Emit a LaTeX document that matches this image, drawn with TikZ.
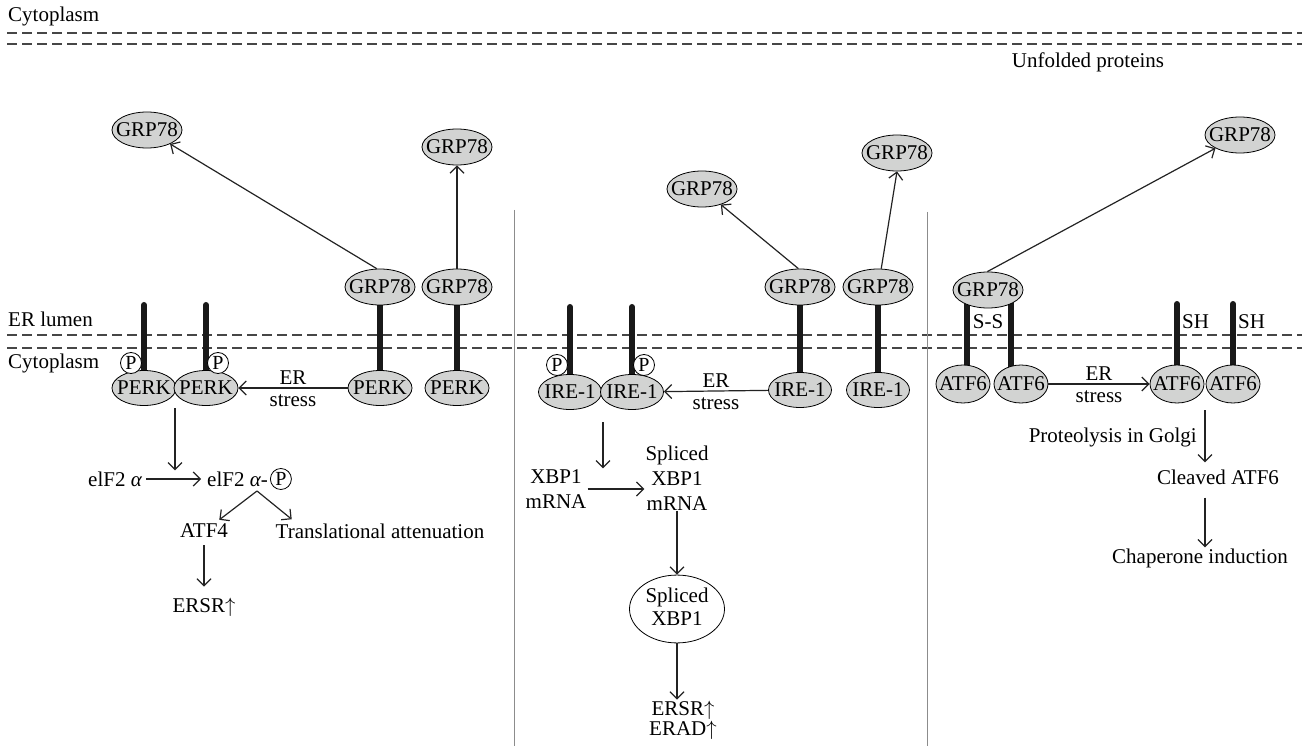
\documentclass[tikz,border=0pt]{standalone}
\usepackage{fontspec}
\setmainfont{Liberation Serif}
\usetikzlibrary{shapes.geometric,arrows.meta,calc,backgrounds}
\definecolor{protfill}{RGB}{210,211,210}
\definecolor{dashcol}{RGB}{70,70,70}
\definecolor{linecol}{RGB}{35,35,35}
\definecolor{sepcol}{RGB}{140,140,140}
\newcommand{\zb}[1]{\makebox[0pt]{#1}}
\newcommand{\upar}{$\uparrow$}
\begin{document}
\begin{tikzpicture}[x=1pt,y=-1pt,
  every node/.style={font=\fontsize{21}{25}\selectfont, text=black},
  prot/.style={ellipse, draw=black, line width=0.8pt, fill=protfill, inner sep=0pt},
  grp/.style={prot, minimum width=70pt, minimum height=36pt},
  perk/.style={prot, minimum width=64pt, minimum height=35pt},
  ire/.style={prot, minimum width=63pt, minimum height=35pt},
  atf/.style={prot, minimum width=54pt, minimum height=38pt},
  pcirc/.style={circle, draw=black, line width=0.8pt, fill=white, inner sep=0pt, minimum size=21pt, font=\fontsize{20}{20}\selectfont},
  txt/.style={inner sep=1pt, align=center},
  arr/.style={draw=linecol, line width=1.2pt, -{Straight Barb[length=7pt,width=14pt]}},
  bar/.style={draw=black!90, line width=6pt, line cap=round},
  memb/.style={draw=dashcol, line width=1.5pt, dash pattern=on 10pt off 5pt},
  sepline/.style={draw=sepcol, line width=1pt}
]
\useasboundingbox (0,0) rectangle (1302,746);

% ---------- labels ----------
\node[txt, anchor=west] (cyt1) at (7,16) {Cytoplasm};
\node[txt] (unf) at (1088,62) {Unfolded proteins};
\node[txt, anchor=west] (erl) at (7,319) {ER lumen};
\node[txt, anchor=west] (cyt2) at (7,363) {Cytoplasm};

% ---------- left panel (PERK) ----------
\node[grp] (lf1) at (147,130) {\zb{GRP78}};
\node[grp] (lf2) at (457,147) {\zb{GRP78}};
\node[grp] (lg1) at (380,287) {\zb{GRP78}};
\node[grp] (lg2) at (457,287) {\zb{GRP78}};
\node[perk] (p1) at (144,388) {\zb{PERK}};
\node[perk] (p2) at (206,388) {\zb{PERK}};
\node[perk] (p3) at (380,388) {\zb{PERK}};
\node[perk] (p4) at (457,388) {\zb{PERK}};
\node[pcirc] (pp1) at (131,363) {P};
\node[pcirc] (pp2) at (218,363) {P};
\coordinate (p1top) at (144,305);
\coordinate (p2top) at (206,305);

\draw[arr] (lg1.100) -- (lf1);
\draw[arr] (lg2) -- (lf2);
\draw[arr] (p3) -- (p2) node[midway, above=0pt] (ls1) {ER} node[midway, below=3pt] (ls2) {stress};

\coordinate (pj) at (175,408);
\node[txt] (eif) at (115,479) {elF2 {\itshape α}};
\node[txt, anchor=west] (eifp) at (206,479) {elF2 {\itshape α}-};
\node[pcirc, anchor=west] (pc) at ([xshift=1pt]eifp.east) {P};
\draw[arr] (pj) -- (pj |- eifp.north);
\draw[arr, shorten <=3pt, shorten >=5pt] (eif) -- (eifp);
\coordinate (apex) at (257,491);
\node[txt] (atf4) at (204,531) {ATF4};
\node[txt] (trans) at (380,531) {Translational attenuation};
\draw[arr, shorten >=5pt] (apex) -- ($(atf4.north)!0.45!(atf4.north east)$);
\draw[arr, shorten >=5pt] (apex) -- ($(trans.north west)!0.1!(trans.north east)$);
\node[txt] (ersr1) at (204,607) {ERSR\upar};
\draw[arr, shorten <=6pt, shorten >=10pt] (atf4.south) -- (atf4.south |- ersr1.north);

% ---------- middle panel (IRE-1) ----------
\node[grp] (mf1) at (702,189) {\zb{GRP78}};
\node[grp] (mf2) at (897,153) {\zb{GRP78}};
\node[grp] (mg1) at (800,287) {\zb{GRP78}};
\node[grp] (mg2) at (878,287) {\zb{GRP78}};
\node[ire] (i1) at (570,392) {\zb{IRE-1}};
\node[ire] (i2) at (632,392) {\zb{IRE-1}};
\node[ire] (i3) at (800,390) {\zb{IRE-1}};
\node[ire] (i4) at (878,390) {\zb{IRE-1}};
\node[pcirc] (ip1) at (557,365) {P};
\node[pcirc] (ip2) at (644,365) {P};
\coordinate (i1top) at (570,307);
\coordinate (i2top) at (632,307);

\draw[arr] (mg1.95) -- (mf1);
\draw[arr] (mg2.80) -- (mf2.south);
\draw[arr] (i3) -- (i2) node[midway, above=0pt] (ms1) {ER} node[midway, below=3pt] (ms2) {stress};

\coordinate (ij) at (603,422);
\node[txt] (xbp) at (556,489) {XBP1\\mRNA};
\node[txt] (sxbp) at (677,478) {Spliced\\XBP1\\mRNA};
\draw[arr] (ij) -- (ij |- xbp.north);
\draw[arr] (xbp.east) -- (xbp.east -| sxbp.west);
\node[ellipse, draw=black, line width=0.8pt, fill=white, inner sep=0pt, minimum width=95pt, minimum height=58pt] (sx) at (677,609)
  {\zb{\begin{tabular}{@{}c@{}}Spliced\\[-2pt]XBP1\end{tabular}}};
\draw[arr] (sxbp.south) -- (sx.north);
\node[txt, font=\fontsize{21}{20}\selectfont] (ersr2) at (683,720) {ERSR\upar\\ERAD\upar};
\draw[arr] (sx.south) -- (sx.south |- ersr2.north);

% ---------- right panel (ATF6) ----------
\node[grp] (ag) at (988,290) {\zb{GRP78}};
\node[grp] (af) at (1240,135) {\zb{GRP78}};
\node[atf] (a1) at (963,384) {\zb{ATF6}};
\node[atf] (a2) at (1021,384) {\zb{ATF6}};
\node[atf] (a3) at (1177,384) {\zb{ATF6}};
\node[atf] (a4) at (1233,384) {\zb{ATF6}};
\coordinate (b1t) at (967,300); \coordinate (b1b) at (967,375);
\coordinate (b2t) at (1011,300); \coordinate (b2b) at (1011,375);
\coordinate (a3top) at (1177,304);
\coordinate (a4top) at (1233,304);
\node[txt] (ss) at (988,322) {S-S};
\node[txt, anchor=west] (sh1) at (1181,322) {SH};
\node[txt, anchor=west] (sh2) at (1237,322) {SH};

\draw[arr] (ag.92) -- (af);
\draw[arr] (a2) -- (a3) node[midway, above=0pt] (rs1) {ER} node[midway, below=3pt] (rs2) {stress};

\coordinate (gtop) at (1205,410);
\node[txt, anchor=east] (golgi) at (1198,437) {Proteolysis in Golgi};
\node[txt] (clv) at (1218,477) {Cleaved ATF6};
\node[txt] (chap) at (1200,558) {Chaperone induction};
\draw[arr, shorten >=6pt] (gtop) -- (gtop |- clv.north);
\draw[arr, shorten <=12pt] (gtop |- clv.south) -- (gtop |- chap.north);

% ---------- background: membranes, separators, bars ----------
\begin{pgfonlayer}{background}
  \coordinate (t1a) at (7,33);  \coordinate (t1b) at (1302,33);
  \coordinate (t2a) at (7,44);  \coordinate (t2b) at (1302,44);
  \coordinate (m1a) at (7,335); \coordinate (m1b) at (1302,335);
  \coordinate (m2a) at (7,348); \coordinate (m2b) at (1302,348);
  \draw[memb] (t1a) -- (t1b);
  \draw[memb] (t2a) -- (t2b);
  \draw[memb] (m1a) -- (m1b);
  \draw[memb] (m2a) -- (m2b);
  \coordinate (s1a) at (514,210); \coordinate (s1b) at (514,746);
  \coordinate (s2a) at (927,212); \coordinate (s2b) at (927,746);
  \draw[sepline] (s1a) -- (s1b);
  \draw[sepline] (s2a) -- (s2b);
  \draw[bar] (p1top) -- (p1);
  \draw[bar] (p2top) -- (p2);
  \draw[bar] (lg1) -- (p3);
  \draw[bar] (lg2) -- (p4);
  \draw[bar] (i1top) -- (i1);
  \draw[bar] (i2top) -- (i2);
  \draw[bar] (mg1) -- (i3);
  \draw[bar] (mg2) -- (i4);
  \draw[bar, line cap=butt] (b1t) -- (b1b);
  \draw[bar, line cap=butt] (b2t) -- (b2b);
  \draw[bar] (a3top) -- (a3);
  \draw[bar] (a4top) -- (a4);
\end{pgfonlayer}
\end{tikzpicture}
\end{document}
